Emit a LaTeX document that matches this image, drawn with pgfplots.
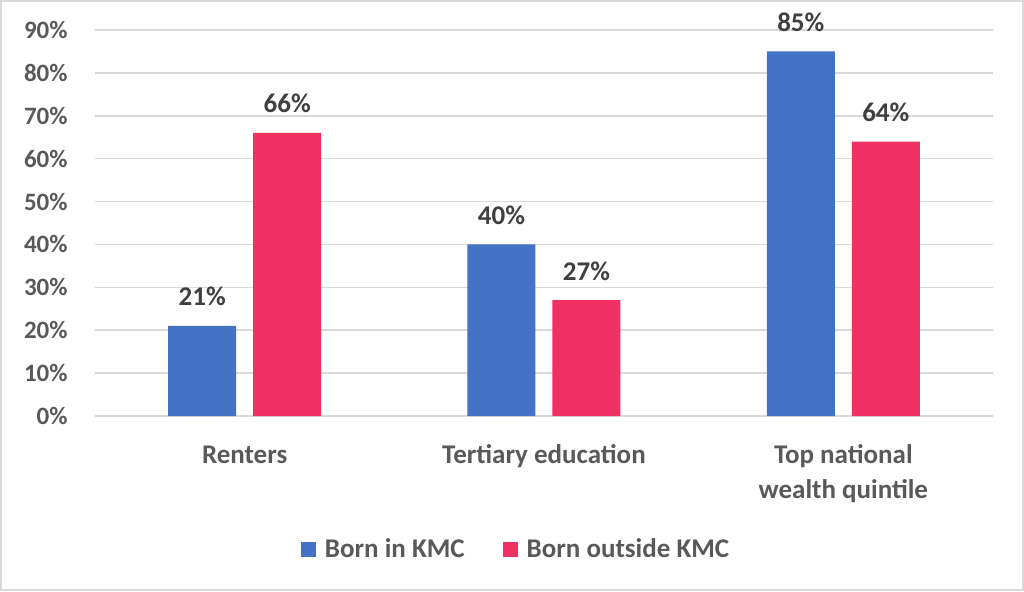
\documentclass[border=0pt]{standalone}
\usepackage{fontspec}
\setmainfont{Carlito}
\usepackage{pgfplots}
\pgfplotsset{compat=1.18}
\definecolor{kmcblue}{RGB}{68,114,196}
\definecolor{kmcred}{RGB}{240,49,99}
\definecolor{gridgray}{RGB}{217,217,217}
\definecolor{labelgray}{RGB}{89,89,89}
\definecolor{valuegray}{RGB}{64,64,64}
\pgfplotsset{sqlegend/.style={legend image code/.code={%
    \fill[##1] (0pt,-3.75pt) rectangle (7.5pt,3.75pt);}}}

\begin{document}
\begin{tikzpicture}
\path[use as bounding box] (-47.5pt,-87.5pt) rectangle (464.5pt,208pt);
\draw[gridgray, line width=1pt] (-47pt,-87pt) rectangle (464pt,207.5pt);
\begin{axis}[
    scale only axis,
    width=449pt, height=193pt,
    ybar=8.5pt, bar width=34pt,
    xmin=-0.5, xmax=2.5,
    ymin=0, ymax=90,
    xtick=data,
    xticklabels={\strut Renters, \strut Tertiary education, {\strut Top national\\wealth quintile}},
    ytick={0,10,...,90},
    yticklabel={\pgfmathprintnumber{\tick}\%},
    /pgf/number format/assume math mode=true,
    major tick length=0pt,
    axis line style={draw=none},
    ymajorgrids,
    grid style={gridgray, line width=0.75pt},
    yticklabel style={font=\fontsize{12.5}{14}\selectfont\bfseries, text=labelgray, anchor=east, inner sep=0pt, xshift=-13.5pt},
    xticklabel style={font=\fontsize{13.5}{17.5}\selectfont\bfseries, text=labelgray, align=center, anchor=north, inner sep=0pt, yshift=-11.5pt},
    nodes near coords={\pgfmathprintnumber{\pgfplotspointmeta}\%},
    nodes near coords style={font=\fontsize{13.5}{16}\selectfont\bfseries, text=valuegray, anchor=base, inner sep=0pt, yshift=10pt},
    legend columns=2,
    legend style={draw=none, at={(0.47,-0.345)}, anchor=center,
        font=\fontsize{13.5}{16}\selectfont\bfseries, text=labelgray,
        /tikz/every odd column/.append style={column sep=2.5pt},
        /tikz/every even column/.append style={column sep=17pt}},
]
\addplot[fill=kmcblue, draw=none, sqlegend]
    coordinates {(0,21) (1,40) (2,85)};
\addplot[fill=kmcred, draw=none, sqlegend]
    coordinates {(0,66) (1,27) (2,64)};
\legend{Born in KMC, Born outside KMC}
\end{axis}
\end{tikzpicture}
\end{document}
